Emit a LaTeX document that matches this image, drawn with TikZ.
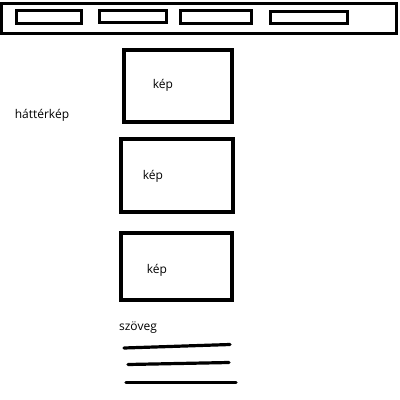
\documentclass[tikz,border=0pt]{standalone}
\usepackage{fontspec}
\setmainfont{Open Sans}
\begin{document}
\begin{tikzpicture}[x=1pt,y=-1pt,
  bar/.style={draw=black,line width=3pt},
  tab/.style={draw=black,line width=3pt},
  pic/.style={draw=black,line width=4pt},
  lbl/.style={font=\fontsize{12}{14}\selectfont,inner sep=0pt},
  txtline/.style={line width=3.2pt,line cap=round}]
\useasboundingbox (0,0) rectangle (400,400);
\fill[white] (0,0) rectangle (400,400);
% top bar
\draw[bar] (1.5,3.5) rectangle (396,33.5);
\draw[tab] (16,10) rectangle (81.5,23.5);
\draw[tab] (99.5,10) rectangle (166,22.5);
\draw[tab] (180.5,10) rectangle (251.5,23);
\draw[tab] (270.5,11) rectangle (347.5,23.5);
% pictures
\draw[pic] (124,50) rectangle (231.5,121.5);
\draw[pic] (121,139) rectangle (232.5,211.5);
\draw[pic] (120.5,233) rectangle (232,300);
\node[lbl] (k1) at (163,85) {kép};
\node[lbl] (k2) at (153,176) {kép};
\node[lbl] (k3) at (157,270) {kép};
\node[lbl] (bg) at (42,115) {háttérkép};
\node[lbl] (sz) at (138,328) {szöveg};
% text lines
\coordinate (a1) at (124,348);
\coordinate (a2) at (230,344.5);
\coordinate (b1) at (128,364.5);
\coordinate (b2) at (229,362.5);
\coordinate (c1) at (126,382.5);
\coordinate (c2) at (236,382.5);
\draw[txtline] (a1) -- (a2);
\draw[txtline] (b1) -- (b2);
\draw[txtline] (c1) -- (c2);
\end{tikzpicture}
\end{document}
